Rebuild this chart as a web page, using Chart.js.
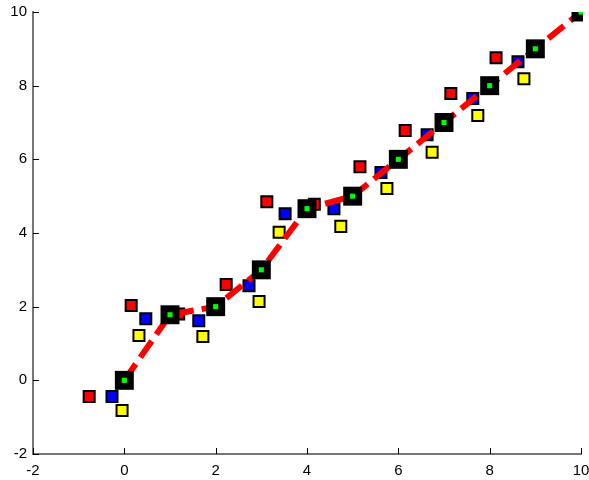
<!DOCTYPE html>
<html>
<head>
<meta charset="utf-8">
<script src="https://cdn.jsdelivr.net/npm/chart.js@4"></script>
<style>
  html, body { margin: 0; padding: 0; background: #fff; overflow: hidden; }
  #wrap { width: 589px; height: 480px; }
</style>
</head>
<body>
<div id="wrap"><canvas id="myChart"></canvas></div>
<script>
const colors = {
  red: "#ff0000",
  blue: "#0000ff",
  yellow: "#ffff00",
  green: "#00ff00",
  black: "#000000",
};

// data
const fitX = [0, 1, 2, 3, 4, 5, 6, 7, 8, 9, 10];
const fitY = [0, 1.78, 2, 3, 4.66, 5, 6, 7, 8, 9, 10];

const redX = [-0.77, 0.15, 1.19, 2.23, 3.12, 4.16, 5.16, 6.15, 7.15, 8.14];
const redY = [-0.44, 2.03, 1.8, 2.6, 4.85, 4.78, 5.8, 6.78, 7.79, 8.76];

const blueX = [-0.27, 0.47, 1.63, 2.73, 3.52, 4.59, 5.62, 6.63, 7.63, 8.62];
const blueY = [-0.44, 1.67, 1.62, 2.57, 4.52, 4.66, 5.64, 6.67, 7.65, 8.65];

const yellowX = [-0.05, 0.32, 1.72, 2.95, 3.39, 4.74, 5.75, 6.74, 7.74, 8.75];
const yellowY = [-0.82, 1.22, 1.19, 2.14, 4.02, 4.18, 5.21, 6.19, 7.19, 8.19];

const tickVals = [-2, 0, 2, 4, 6, 8, 10];

// fit line and its markers get cut at the top/right edge of the axes
const edgeClip = { left: 20, top: 0, right: 2, bottom: 20 };

function pts(xs, ys) {
  return xs.map((x, i) => ({ x: x, y: ys[i] }));
}

function squares(xs, ys, fill, order) {
  return {
    data: pts(xs, ys),
    pointStyle: "rect",
    pointRadius: 7.8,
    pointHoverRadius: 7.8,
    backgroundColor: fill,
    borderColor: colors.black,
    borderWidth: 2,
    showLine: false,
    clip: 0,
    order: order,
  };
}

// small ticks pointing into the plot
const innerTicks = {
  id: "innerTicks",
  afterDraw(chart) {
    const { ctx, chartArea, scales } = chart;
    ctx.save();
    ctx.strokeStyle = "#000";
    ctx.lineWidth = 1;
    ctx.beginPath();
    tickVals.forEach((v) => {
      const px = Math.round(scales.x.getPixelForValue(v)) + 0.5;
      ctx.moveTo(px, chartArea.bottom);
      ctx.lineTo(px, chartArea.bottom - 6);
      const py = Math.round(scales.y.getPixelForValue(v)) + 0.5;
      ctx.moveTo(chartArea.left, py);
      ctx.lineTo(chartArea.left + 6, py);
    });
    ctx.stroke();
    ctx.restore();
  },
};

const axisFont = { family: "Liberation Sans, Arial, sans-serif", size: 15 };

const ctx = document.getElementById("myChart");
new Chart(ctx, {
  type: "scatter",
  data: {
    datasets: [
      {
        data: pts(fitX, fitY),
        pointStyle: "rect",
        pointRadius: 3.6,
        pointHoverRadius: 3.6,
        backgroundColor: colors.green,
        borderWidth: 0,
        showLine: false,
        clip: edgeClip,
        order: 0,
      },
      {
        data: pts(fitX, fitY),
        pointStyle: "rect",
        pointRadius: 13.4,
        pointHoverRadius: 13.4,
        backgroundColor: colors.black,
        borderWidth: 0,
        showLine: false,
        clip: edgeClip,
        order: 1,
      },
      {
        data: pts(fitX, fitY),
        showLine: true,
        pointRadius: 0,
        borderColor: colors.red,
        borderWidth: 6,
        borderDash: [20, 8],
        tension: 0,
        clip: edgeClip,
        order: 2,
      },
      squares(yellowX, yellowY, colors.yellow, 3),
      squares(blueX, blueY, colors.blue, 4),
      squares(redX, redY, colors.red, 5),
    ],
  },
  options: {
    responsive: true,
    maintainAspectRatio: false,
    animation: false,
    events: [],
    layout: { autoPadding: false, padding: { left: 0, right: 8, top: 12, bottom: 0 } },
    plugins: {
      legend: { display: false },
      tooltip: { enabled: false },
    },
    scales: {
      x: {
        type: "linear",
        min: -2,
        max: 10,
        afterBuildTicks: (s) => { s.ticks = tickVals.map((v) => ({ value: v })); },
        afterFit: (s) => { s.height = 26; s.paddingLeft = 0; s.paddingRight = 0; },
        grid: { display: false, drawTicks: false },
        border: { display: true, color: "#777", width: 2 },
        ticks: { color: "#000", font: axisFont, padding: 8, maxRotation: 0 },
      },
      y: {
        type: "linear",
        min: -2,
        max: 10,
        afterBuildTicks: (s) => { s.ticks = tickVals.map((v) => ({ value: v })); },
        afterFit: (s) => { s.width = 33; s.paddingTop = 0; s.paddingBottom = 0; },
        grid: { display: false, drawTicks: false },
        border: { display: true, color: "#777", width: 2 },
        ticks: { color: "#000", font: axisFont, padding: 6 },
      },
    },
  },
  plugins: [innerTicks],
});
</script>
</body>
</html>
